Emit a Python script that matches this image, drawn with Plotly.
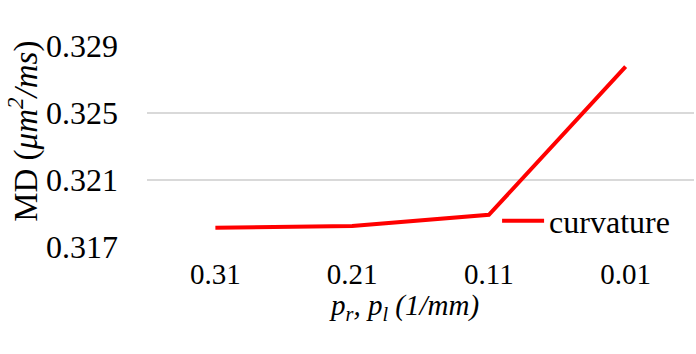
import plotly.graph_objects as go

# values
categories = ["0.31", "0.21", "0.11", "0.01"]
md_curvature = [0.31815, 0.31825, 0.31892, 0.32777]
y_ticks = [0.317, 0.321, 0.325, 0.329]
y_tick_labels = ["0.317", "0.321", "0.325", "0.329"]

FONT = "Liberation Serif, Times New Roman, serif"

fig = go.Figure()
fig.add_trace(go.Scatter(
    x=categories, y=md_curvature, mode="lines", name="curvature",
    line=dict(color="#FF0000", width=4),
))

fig.update_layout(
    width=696, height=354,
    paper_bgcolor="white", plot_bgcolor="white",
    font=dict(family=FONT, size=30, color="black"),
    margin=dict(l=147, r=2, t=46, b=107, autoexpand=False),
    showlegend=True,
    legend=dict(
        x=0.64, y=0.13, xanchor="left", yanchor="middle",
        bgcolor="rgba(0,0,0,0)", font=dict(size=32),
        itemwidth=42, tracegroupgap=0,
    ),
    xaxis=dict(
        type="category", range=[-0.5, 3.5],
        showgrid=False, showline=False, zeroline=False,
        ticks="", ticklabelstandoff=7, tickfont=dict(size=29),
    ),
    yaxis=dict(
        range=[0.317, 0.329], tickvals=y_ticks, ticktext=y_tick_labels,
        showgrid=True, gridcolor="#D9D9D9", gridwidth=1.5,
        zeroline=False, showline=False, ticks="",
        ticklabelstandoff=28, tickfont=dict(size=32),
    ),
)

fig.add_annotation(
    text="MD (<i>μm<sup>2</sup>/ms</i>)", xref="paper", yref="paper",
    x=-0.226, y=0.575, xanchor="center", yanchor="middle",
    textangle=-90, showarrow=False, font=dict(size=33),
)
fig.add_annotation(
    text="<i>p<sub>r</sub>, p<sub>l</sub> (1/mm)</i>", xref="paper", yref="paper",
    x=0.469, y=-0.30, xanchor="center", yanchor="middle",
    showarrow=False, font=dict(size=29),
)

fig.write_html(
    "out.html",
    config={"displayModeBar": False},
    post_script="document.body.style.margin='0';",
)
